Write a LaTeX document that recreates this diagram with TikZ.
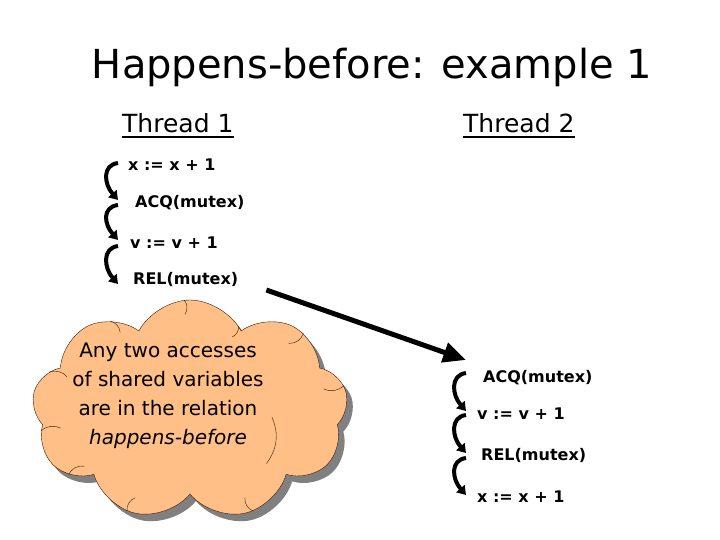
\documentclass[tikz,border=0pt]{standalone}
\usepackage{fontspec}
\setmainfont{DejaVu Sans}
\usepackage{tikz}
\usetikzlibrary{calc,arrows.meta,shapes.symbols,shadows}
\definecolor{peach}{HTML}{FFBF86}
\definecolor{shadc}{HTML}{808080}
\definecolor{edgec}{HTML}{3A1A0A}
\tikzset{
  heading/.style={font=\fontsize{40}{44}\selectfont,anchor=base},
  thr/.style={font=\fontsize{25}{28}\selectfont,anchor=base west,inner sep=0pt},
  uline/.style={line width=1.6pt},
  stmt/.style={font=\fontsize{16}{19}\selectfont\bfseries,anchor=west,inner sep=0pt},
  seq/.style={-{Triangle[length=3mm,width=3.8mm]},line width=4pt},
  sync/.style={-{Triangle[length=8mm,width=7mm]},line width=5pt},
  cloudbox/.style={cloud,cloud puffs=9,cloud puff arc=125,aspect=1.45,draw=edgec,thin,fill=peach,
    minimum width=316pt,minimum height=220pt,
    drop shadow={shadow xshift=6pt,shadow yshift=-7pt,fill=shadc,opacity=1}},
  fold/.style={draw=edgec,thin},
  note/.style={font=\fontsize{20}{29}\selectfont,align=center}
}
\begin{document}
\begin{tikzpicture}[x=1pt,y=-1pt]
\useasboundingbox (0,0) rectangle (720,540);
\node[heading] (title) at (372,79) {Happens-before: example 1};
\node[thr] (th1) at (122,133) {Thread 1};
\node[thr] (th2) at (463,133) {Thread 2};
\draw[uline] ($(th1.base west)+(0,4)$) -- ($(th1.base east)+(0,4)$);
\draw[uline] ($(th2.base west)+(0,4)$) -- ($(th2.base east)+(0,4)$);
% thread 1
\node[stmt] (t1x) at (128,165) {x := x + 1};
\node[stmt] (t1acq) at (135,203) {ACQ(mutex)};
\node[stmt] (t1v) at (130,243) {v := v + 1};
\node[stmt] (t1rel) at (133,279) {REL(mutex)};
\draw[seq] ($(t1x.west)+(-10,-2)$) .. controls +(-16,2) and +(-14,-16) .. ($(t1acq.west)+(-17,-3)$);
\draw[seq] ($(t1acq.west)+(-17,2)$) .. controls +(-16,2) and +(-14,-16) .. ($(t1v.west)+(-12,-3)$);
\draw[seq] ($(t1v.west)+(-12,3)$) .. controls +(-16,2) and +(-14,-16) .. ($(t1rel.west)+(-15,5)$);
% thread 2
\node[stmt] (t2acq) at (483,378) {ACQ(mutex)};
\node[stmt] (t2v) at (477,414) {v := v + 1};
\node[stmt] (t2rel) at (481,455) {REL(mutex)};
\node[stmt] (t2x) at (477,497) {x := x + 1};
\draw[seq] ($(t2acq.west)+(-17,-5)$) .. controls +(-16,2) and +(-14,-16) .. ($(t2v.west)+(-11,-3)$);
\draw[seq] ($(t2v.west)+(-11,1)$) .. controls +(-16,2) and +(-14,-16) .. ($(t2rel.west)+(-15,-2)$);
\draw[seq] ($(t2rel.west)+(-15,3)$) .. controls +(-16,2) and +(-14,-16) .. ($(t2x.west)+(-11,-2)$);
% release -> acquire
\draw[sync] ($(t1rel.east)+(28,11)$) -- ($(t2acq.west)+(-17,-18)$);
% the cloud
\node[cloudbox] (cloud) at (190,410) {};
\foreach \a in {132,93,60,34,9,-58,-122,-152,-172,165}
  \draw[fold] (cloud.\a) to[bend left=35] ($(cloud.\a)!0.13!(cloud.center)$);
\draw[fold] ($(cloud.center)!0.55!(cloud.-5)$) to[bend left=30] ($(cloud.center)!0.8!(cloud.-35)$);
\node[note] (notetxt) at ($(cloud.center)+(-22,-14)$) {Any two accesses\\of shared variables\\are in the relation\\\textit{happens-before}};
\end{tikzpicture}
\end{document}
